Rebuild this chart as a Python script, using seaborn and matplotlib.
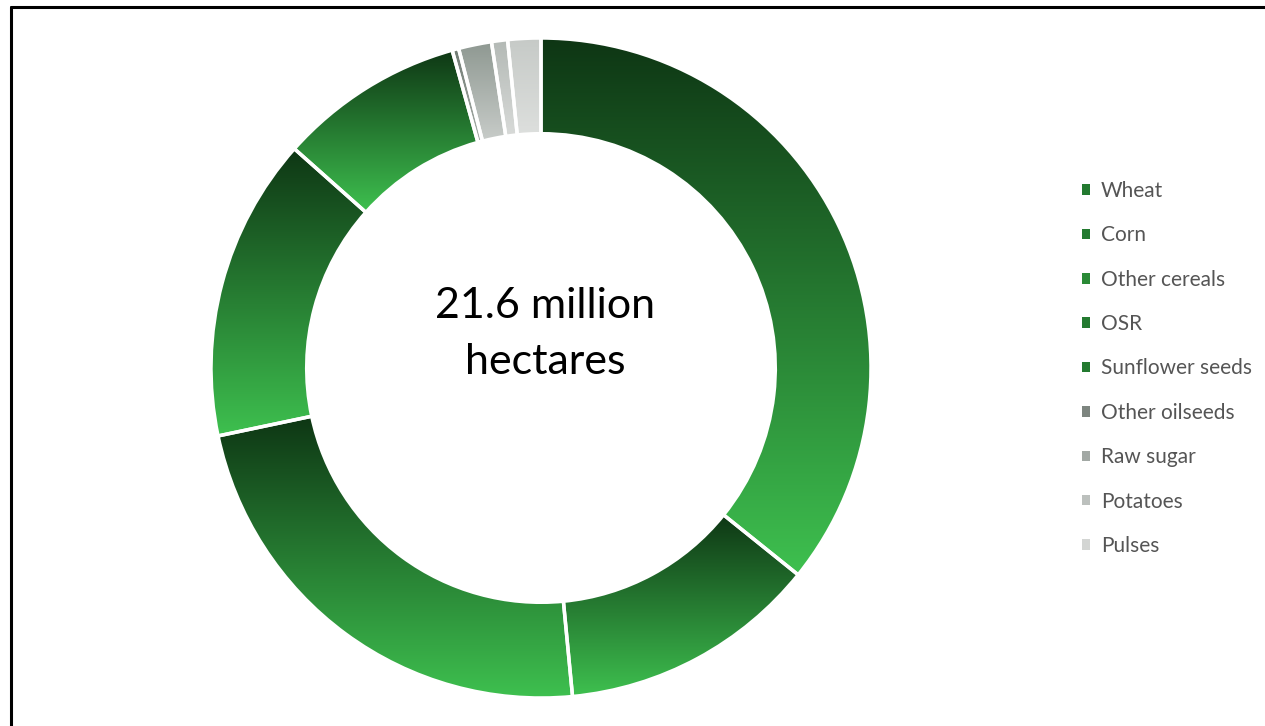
import numpy as np
import matplotlib
matplotlib.use("Agg")
import matplotlib.pyplot as plt
from matplotlib.colors import LinearSegmentedColormap
from matplotlib.lines import Line2D
from matplotlib.patches import Patch
import seaborn as sns

# Arable land by crop, million hectares
crops = ["Wheat", "Corn", "Other cereals", "OSR", "Sunflower seeds",
         "Other oilseeds", "Raw sugar", "Potatoes", "Pulses"]
area_mha = [7.75, 2.75, 5.03, 3.22, 1.97, 0.07, 0.35, 0.17, 0.35]
total_label = "21.6 million\nhectares"

# Top / bottom colours of each wedge's vertical gradient
green_top, green_bottom = "#0e3614", "#3ec04f"
grad_top = [green_top] * 5 + ["#6f7a72", "#8e9891", "#b3b9b5", "#c6cac7"]
grad_bottom = [green_bottom] * 5 + ["#a9b0ab", "#c8ccc9", "#d8dad8", "#dddfdd"]
legend_colors = ["#237a30", "#237a30", "#2a8a36", "#237a30", "#237a30",
                 "#7d857f", "#a2a8a4", "#bcc0bd", "#d3d5d3"]

sns.set_theme(style="white")
plt.rcParams["font.family"] = ["Lato", "DejaVu Sans"]

W, H = 1265, 726
fig = plt.figure(figsize=(W / 100, H / 100), dpi=100)
ax = fig.add_axes([0, 0, 1, 1])

cx, cy, r_out = 541, H - 368, 330
ring = 0.29

wedges, _ = ax.pie(area_mha, startangle=90, counterclock=False,
                   center=(cx, cy), radius=r_out, frame=True,
                   wedgeprops=dict(width=r_out * ring, edgecolor="white",
                                   linewidth=2.5))

grad = np.linspace(0, 1, 256).reshape(-1, 1)
for w, c0, c1 in zip(wedges, grad_top, grad_bottom):
    ext = w.get_path().get_extents()
    cmap = LinearSegmentedColormap.from_list("g", [c1, c0])
    w.set_facecolor("none")
    im = ax.imshow(grad, cmap=cmap, origin="lower", aspect="auto",
                   extent=(ext.x0, ext.x1, ext.y0, ext.y1), zorder=1,
                   interpolation="bilinear")
    im.set_clip_path(w)
    w.set_zorder(2)

ax.set_xlim(0, W)
ax.set_ylim(0, H)
ax.set_aspect("equal")
ax.axis("off")

ax.text(545, H - 334, total_label, ha="center", va="center",
        fontsize=31, color="black", linespacing=1.55)

handles = [Patch(facecolor=c, edgecolor="none") for c in legend_colors]
leg = ax.legend(handles, crops, loc="upper left",
                bbox_to_anchor=(1082 / W, 1 - 181 / H), frameon=False,
                borderpad=0, borderaxespad=0,
                fontsize=15, labelcolor="#555555", handlelength=0.4,
                handleheight=0.4, handletextpad=0.5, labelspacing=1.17)

# Frame lines along the left and top edges
fig.add_artist(Line2D([11 / W, 11 / W], [0, 1 - 7 / H], color="black",
                      lw=2.2, transform=fig.transFigure))
fig.add_artist(Line2D([11 / W, 1], [1 - 7 / H, 1 - 7 / H], color="black",
                      lw=2.2, transform=fig.transFigure))

fig.savefig("out.png", dpi=100, facecolor="white")
